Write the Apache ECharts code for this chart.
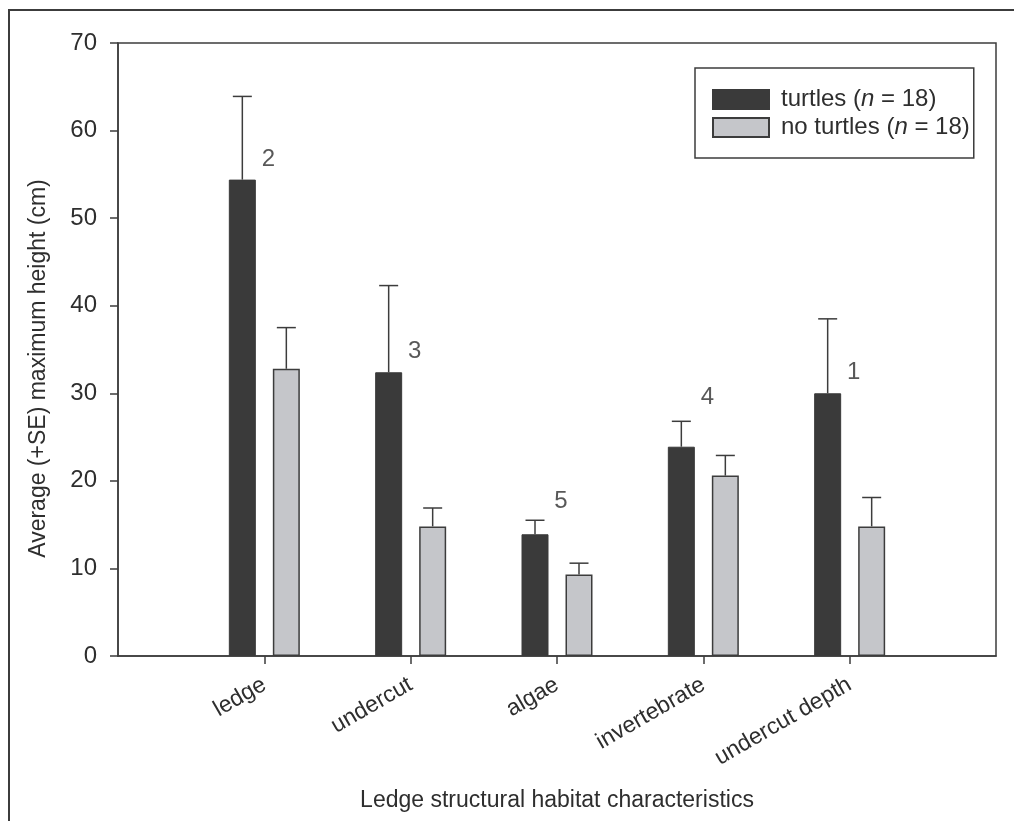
<!DOCTYPE html>
<html>
<head>
<meta charset="utf-8">
<script src="https://cdn.jsdelivr.net/npm/echarts@6/dist/echarts.min.js"></script>
<style>
html,body{margin:0;padding:0;background:#fff;}
#chart{width:1014px;height:821px;}
</style>
</head>
<body>
<div id="chart"></div>
<script>
// ---- data ----
const categories = ['ledge', 'undercut', 'algae', 'invertebrate', 'undercut depth'];
const turtlesMean = [54.4, 32.4, 13.9, 23.9, 30.0];
const turtlesUpper = [63.9, 42.3, 15.5, 26.8, 38.5];
const noTurtlesMean = [32.8, 14.8, 9.3, 20.6, 14.8];
const noTurtlesUpper = [37.5, 16.9, 10.6, 22.9, 18.1];
const rankLabels = ['2', '3', '5', '4', '1'];
const rankLabelY = [56.7, 34.8, 17.7, 29.5, 32.4];
const yTicks = [0, 10, 20, 30, 40, 50, 60, 70];

// ---- style ----
const FONT = '"Liberation Sans", Arial, sans-serif';
const TXT = '#2e2e2e';
const LINE = '#3c3c3c';
const DARK = '#3a3a3a';
const LIGHT = '#c5c6ca';
const BAR_W = 27;
const BAR_GAP_PX = 17;
const OFFSET = (BAR_W + BAR_GAP_PX) / 2;

// padded category axis: empty slot at both ends
const axisCats = [''].concat(categories, ['']);
const pad = arr => [null].concat(arr, [null]);

function errData(mean, upper) {
  return mean.map((m, i) => [i + 1, m, upper[i]]);
}
function errRender(sign) {
  return function (params, api) {
    const top = api.coord([api.value(0), api.value(2)]);
    const base = api.coord([api.value(0), api.value(1)]);
    const x = top[0] + sign * OFFSET;
    const st = { stroke: LINE, lineWidth: 1.5 };
    return {
      type: 'group',
      children: [
        { type: 'line', shape: { x1: x, y1: base[1], x2: x, y2: top[1] }, style: st },
        { type: 'line', shape: { x1: x - 9.5, y1: top[1], x2: x + 9.5, y2: top[1] }, style: st }
      ]
    };
  };
}

const chart = echarts.init(document.getElementById('chart'), null, { renderer: 'canvas' });
const option = {
  backgroundColor: '#ffffff',
  animation: false,
  textStyle: { fontFamily: FONT, color: TXT },
  graphic: [{
    type: 'rect', shape: { x: 9, y: 10, width: 1200, height: 1000 },
    style: { fill: 'none', stroke: LINE, lineWidth: 2 }, silent: true, z: -10
  }],
  grid: {
    left: 118, top: 43, right: 18, bottom: 165,
    show: true, borderColor: LINE, borderWidth: 1.5, backgroundColor: 'transparent'
  },
  legend: {
    left: 695, top: 68, orient: 'vertical',
    data: ['turtles', 'no turtles'],
    selectedMode: false,
    itemWidth: 56, itemHeight: 19, itemGap: 0,
    borderColor: LINE, borderWidth: 1.5, borderRadius: 0,
    padding: [17.5, 4, 16.5, 17],
    icon: 'rect',
    formatter: name => name + ' ({i|n} = 18)',
    textStyle: {
      fontFamily: FONT, fontSize: 24, color: TXT, lineHeight: 28, padding: [0, 0, 0, 7],
      rich: { i: { fontStyle: 'italic', fontFamily: FONT, fontSize: 24, color: TXT, lineHeight: 28 } }
    }
  },
  xAxis: {
    type: 'category',
    data: axisCats,
    boundaryGap: false,
    name: 'Ledge structural habitat characteristics',
    nameLocation: 'middle',
    nameGap: 133,
    nameTextStyle: { fontFamily: FONT, fontSize: 23, color: TXT },
    axisLine: { lineStyle: { color: LINE, width: 1.5 } },
    axisTick: { show: true, length: 8, interval: (i, v) => v !== '', lineStyle: { color: LINE, width: 1.5 } },
    axisLabel: { interval: 0, rotate: 30, margin: 27, fontFamily: FONT, fontSize: 23, color: TXT },
    splitLine: { show: false }
  },
  yAxis: {
    type: 'value',
    min: yTicks[0], max: yTicks[yTicks.length - 1], interval: 10,
    name: 'Average (+SE) maximum height (cm)',
    nameLocation: 'middle',
    nameGap: 68,
    nameTextStyle: { fontFamily: FONT, fontSize: 23, color: TXT, padding: [0, 38, 0, 0] },
    axisLine: { show: true, lineStyle: { color: LINE, width: 1.5 } },
    axisTick: { show: true, length: 8, lineStyle: { color: LINE, width: 1.5 } },
    axisLabel: { margin: 21, fontFamily: FONT, fontSize: 24, color: TXT },
    splitLine: { show: false }
  },
  series: [
    {
      name: 'turtles', type: 'bar', data: pad(turtlesMean),
      barWidth: BAR_W, barGap: (BAR_GAP_PX / BAR_W * 100) + '%',
      itemStyle: { color: DARK, borderColor: DARK, borderWidth: 1 }, z: 2
    },
    {
      name: 'no turtles', type: 'bar', data: pad(noTurtlesMean),
      barWidth: BAR_W,
      itemStyle: { color: LIGHT, borderColor: LINE, borderWidth: 1.5 }, z: 2
    },
    {
      type: 'custom', data: errData(turtlesMean, turtlesUpper),
      renderItem: errRender(-1), z: 3, silent: true
    },
    {
      type: 'custom', data: errData(noTurtlesMean, noTurtlesUpper),
      renderItem: errRender(1), z: 3, silent: true
    },
    {
      type: 'scatter', data: rankLabelY.map((v, i) => [i + 1, v]),
      symbolSize: 1, itemStyle: { color: 'rgba(0,0,0,0)' }, silent: true,
      label: {
        show: true, position: 'inside', offset: [4, 0],
        formatter: p => rankLabels[p.dataIndex],
        fontFamily: FONT, fontSize: 24, color: TXT
      }, z: 4
    }
  ]
};
chart.setOption(option);
</script>
</body>
</html>
